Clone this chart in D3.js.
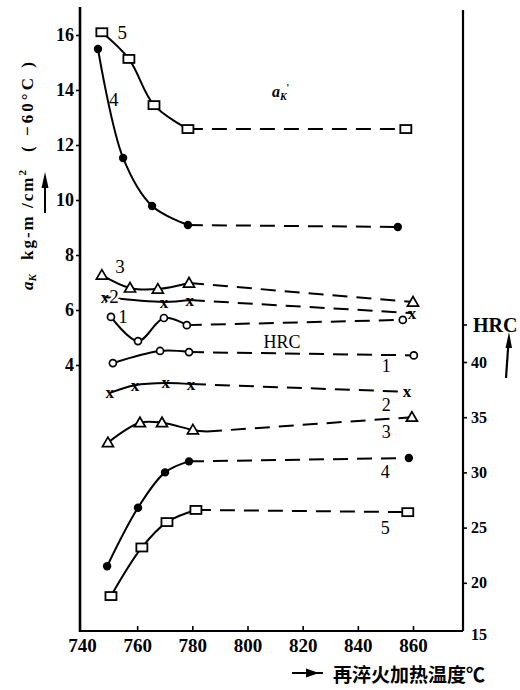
<!DOCTYPE html>
<html><head><meta charset="utf-8">
<script src="https://cdn.jsdelivr.net/npm/d3@7"></script>
<style>body{margin:0;background:#fff}</style>
</head><body>
<svg id="c" width="520" height="690"></svg>
<script>
// ---------- data ----------
const xTicks = [740, 760, 780, 800, 820, 840, 860];
const akTicks = [4, 6, 8, 10, 12, 14, 16];
const hrcTicks = [15, 20, 25, 30, 35, 40];

// impact toughness a_K (kg-m/cm2, -60C), left axis
const akTemp5 = [747.2, 757.0, 766.1, 778.4, 857.4];
const akVal5  = [16.1, 15.13, 13.45, 12.58, 12.58];
const akTemp4 = [745.8, 754.9, 765.4, 778.4, 854.5];
const akVal4  = [15.49, 11.53, 9.78, 9.09, 9.02];
const akTemp3 = [747.2, 757.4, 767.5, 778.8, 860.0];
const akVal3  = [7.27, 6.8, 6.76, 6.98, 6.29];
const akTemp2 = [748.3, 769.7, 779.1, 859.6];
const akVal2  = [6.47, 6.29, 6.36, 5.89];
const akTemp1 = [750.5, 760.3, 769.7, 778.0, 856.3];
const akVal1  = [5.75, 4.87, 5.71, 5.45, 5.64];

// hardness HRC, right axis
const hrcTemp1 = [751.2, 768.3, 778.8, 860.3];
const hrcVal1  = [39.9, 41.0, 40.9, 40.6];
const hrcTemp2 = [750.1, 759.2, 770.4, 779.5, 857.8];
const hrcVal2  = [37.2, 37.9, 38.1, 38.0, 37.3];
const hrcTemp3 = [749.4, 761.0, 769.0, 780.2, 785.3, 859.6];
const hrcVal3  = [32.7, 34.5, 34.5, 33.85, 33.7, 35.0];
const hrcTemp4 = [749.1, 760.3, 770.1, 778.8, 858.5];
const hrcVal4  = [21.5, 26.8, 30.0, 31.0, 31.3];
const hrcTemp5 = [750.5, 761.7, 770.8, 781.3, 858.1];
const hrcVal5  = [18.8, 23.2, 25.5, 26.6, 26.4];

// ---------- chart ----------
const svg = d3.select("#c");
const x = d3.scaleLinear().domain([740, 860]).range([82, 413]);
const yAk = d3.scaleLinear().domain([4, 16]).range([365, 35]);
const yH = d3.scaleLinear().domain([15, 40]).range([638, 362]);

const SERIF = "'Liberation Serif', 'DejaVu Serif', serif";
const LEFT = 80, RIGHT = 463, BOTTOM = 631;

// axes lines
svg.append("line").attr("x1", LEFT).attr("x2", LEFT).attr("y1", 7).attr("y2", BOTTOM + 1)
  .attr("stroke", "#000").attr("stroke-width", 2.6);
svg.append("line").attr("x1", RIGHT).attr("x2", RIGHT).attr("y1", 10).attr("y2", BOTTOM)
  .attr("stroke", "#000").attr("stroke-width", 2.2);
svg.append("line").attr("x1", LEFT).attr("x2", RIGHT).attr("y1", BOTTOM).attr("y2", BOTTOM)
  .attr("stroke", "#000").attr("stroke-width", 2.2);

function styleAxis(g, size, weight) {
  g.attr("font-family", null).attr("font-size", null);
  g.select(".domain").remove();
  g.selectAll("line").attr("stroke", "#000").attr("stroke-width", 1.6);
  g.selectAll("text").style("font-family", SERIF).style("font-size", size + "px")
    .style("font-weight", weight).attr("fill", "#000");
}

const gL = svg.append("g").attr("transform", `translate(${LEFT},0)`)
  .call(d3.axisLeft(yAk).tickValues(akTicks).tickSize(4).tickPadding(2).tickFormat(d3.format("d")));
styleAxis(gL, 18, "bold");

const gR = svg.append("g").attr("transform", `translate(${RIGHT},0)`)
  .call(d3.axisRight(yH).tickValues(hrcTicks).tickSize(4).tickPadding(4).tickFormat(d3.format("d")));
styleAxis(gR, 16, "bold");
gR.selectAll(".tick").filter(d => d === 15).select("line").remove();
gR.selectAll(".tick").filter(d => d === 15).select("text").attr("dy", "0.1em");

const gB = svg.append("g").attr("transform", `translate(0,${BOTTOM})`)
  .call(d3.axisBottom(x).tickValues(xTicks).tickSize(-5).tickPadding(8).tickFormat(d3.format("d")));
styleAxis(gB, 19, "bold");
gB.selectAll(".tick").filter(d => d === 740).select("line").remove();

// series
const series = [
  {t: akTemp5, v: akVal5, ax: "ak", mk: "square", solid: 4},
  {t: akTemp4, v: akVal4, ax: "ak", mk: "dot", solid: 4},
  {t: akTemp3, v: akVal3, ax: "ak", mk: "tri", solid: 4},
  {t: akTemp2, v: akVal2, ax: "ak", mk: "x", solid: 3},
  {t: akTemp1, v: akVal1, ax: "ak", mk: "circle", solid: 4},
  {t: hrcTemp1, v: hrcVal1, ax: "h", mk: "circle", solid: 3},
  {t: hrcTemp2, v: hrcVal2, ax: "h", mk: "x", solid: 4},
  {t: hrcTemp3, v: hrcVal3, ax: "h", mk: "tri", solid: 5, skip: [4]},
  {t: hrcTemp4, v: hrcVal4, ax: "h", mk: "dot", solid: 4},
  {t: hrcTemp5, v: hrcVal5, ax: "h", mk: "square", solid: 4}
];

const lines = svg.append("g");
const marks = svg.append("g");
series.forEach(s => {
  const yS = s.ax === "ak" ? yAk : yH;
  const pts = s.t.map((t, i) => [t, s.v[i]]);
  const solid = pts.slice(0, s.solid);
  const dashed = pts.slice(s.solid - 1);
  lines.append("path")
    .attr("d", d3.line().x(d => x(d[0])).y(d => yS(d[1])).curve(d3.curveCatmullRom.alpha(0.5))(solid))
    .attr("fill", "none").attr("stroke", "#000").attr("stroke-width", 2);
  lines.append("path")
    .attr("d", d3.line().x(d => x(d[0])).y(d => yS(d[1]))(dashed))
    .attr("fill", "none").attr("stroke", "#000").attr("stroke-width", 2)
    .attr("stroke-dasharray", "15,9");
  pts.forEach((p, i) => {
    if (s.skip && s.skip.includes(i)) return;
    const cx = x(p[0]), cy = yS(p[1]);
    if (s.mk === "square") {
      marks.append("rect").attr("x", cx - 5.5).attr("y", cy - 4).attr("width", 11).attr("height", 8)
        .attr("fill", "#fff").attr("stroke", "#000").attr("stroke-width", 1.8);
    } else if (s.mk === "dot") {
      marks.append("circle").attr("cx", cx).attr("cy", cy).attr("r", 4.2).attr("fill", "#000");
    } else if (s.mk === "circle") {
      marks.append("circle").attr("cx", cx).attr("cy", cy).attr("r", 3.5)
        .attr("fill", "#fff").attr("stroke", "#000").attr("stroke-width", 1.7);
    } else if (s.mk === "tri") {
      marks.append("path").attr("d", `M${cx},${cy - 5.5}L${cx + 5.5},${cy + 4}L${cx - 5.5},${cy + 4}Z`)
        .attr("fill", "#fff").attr("stroke", "#000").attr("stroke-width", 1.7);
    } else if (s.mk === "x") {
      marks.append("text").attr("x", cx).attr("y", cy).attr("text-anchor", "middle")
        .attr("dominant-baseline", "central").style("font-family", SERIF).attr("font-weight", "bold")
        .attr("font-size", 17).text("x");
    }
  });
});

// series labels
function label(tx, ty, txt, size, opts) {
  const t = svg.append("text").attr("x", tx).attr("y", ty).attr("text-anchor", "middle")
    .attr("dominant-baseline", "central").style("font-family", SERIF).attr("font-size", size)
    .attr("fill", "#000").text(txt);
  if (opts && opts.halo) t.attr("stroke", "#fff").attr("stroke-width", 5).attr("paint-order", "stroke");
  if (opts && opts.bold) t.attr("font-weight", "bold");
  return t;
}
label(x(754.6), yAk(16.1), "5", 19);
label(x(751.5), yAk(13.65), "4", 19);
label(x(753.8), yAk(7.6), "3", 19);
label(x(751.6), yAk(6.5), "2", 19, {halo: true});
label(x(754.9), yAk(5.75), "1", 19);
label(x(850.3), yH(40.6) + 11, "1", 18);
label(x(850.3), yH(37.3) + 13, "2", 18);
label(x(850.3), yH(35.0) + 15, "3", 18);
label(x(849.9), yH(31.3) + 14, "4", 18);
label(x(849.9), yH(26.4) + 16, "5", 18);

// in-plot titles
label(282, 342, "HRC", 18);
const ak2 = svg.append("text").attr("x", 272).attr("y", 97).style("font-family", SERIF).attr("fill", "#000");
ak2.append("tspan").attr("font-style", "italic").attr("font-weight", "bold").attr("font-size", 16).text("a");
ak2.append("tspan").attr("font-style", "italic").attr("font-weight", "bold").attr("font-size", 10).attr("dy", 3).text("K");
ak2.append("tspan").attr("font-size", 12).attr("dy", -8).text("'");

// right axis title
svg.append("line").attr("x1", RIGHT).attr("x2", RIGHT + 4).attr("y1", 325).attr("y2", 325)
  .attr("stroke", "#000").attr("stroke-width", 1.6);
svg.append("text").attr("x", 473).attr("y", 325).attr("dominant-baseline", "central")
  .style("font-family", SERIF).attr("font-weight", "bold").attr("font-size", 20).text("HRC");
svg.append("line").attr("x1", 506).attr("y1", 378).attr("x2", 508.5).attr("y2", 342)
  .attr("stroke", "#000").attr("stroke-width", 2.2);
svg.append("path").attr("d", "M509,332L505.5,348L512,348Z").attr("fill", "#000");

// left axis title (rotated)
const lt = svg.append("g").attr("transform", "translate(33,290) rotate(-90)")
  .style("font-family", SERIF).attr("font-weight", "bold").attr("fill", "#000");
const a1 = lt.append("text").attr("x", 0).attr("y", 0).attr("font-size", 17);
a1.append("tspan").attr("font-style", "italic").text("a");
a1.append("tspan").attr("font-style", "italic").attr("font-size", 11).attr("dy", 3).text("K");
const a2 = lt.append("text").attr("x", 30).attr("y", 0).attr("font-size", 17).attr("letter-spacing", 2);
a2.append("tspan").text("kg-m /cm");
a2.append("tspan").attr("font-size", 11).attr("dy", -7).text("2");
lt.append("text").attr("x", 138).attr("y", 0).attr("font-size", 17)
  .attr("textLength", 90).attr("lengthAdjust", "spacing").text("( −60°C )");
svg.append("line").attr("x1", 45).attr("y1", 213).attr("x2", 45).attr("y2", 182)
  .attr("stroke", "#000").attr("stroke-width", 2);
svg.append("path").attr("d", "M45,172L41.5,188L48.5,188Z").attr("fill", "#000");

// x axis title
svg.append("line").attr("x1", 292).attr("y1", 673).attr("x2", 323).attr("y2", 673)
  .attr("stroke", "#000").attr("stroke-width", 2);
svg.append("path").attr("d", "M319,673L306,668.5L306,677.5Z").attr("fill", "#000");
svg.append("text").attr("x", 333).attr("y", 673).attr("dominant-baseline", "central")
  .style("font-family", "'Noto Sans CJK SC', sans-serif").attr("font-weight", "bold")
  .attr("font-size", 19).text("再淬火加热温度℃");
</script>
</body></html>
